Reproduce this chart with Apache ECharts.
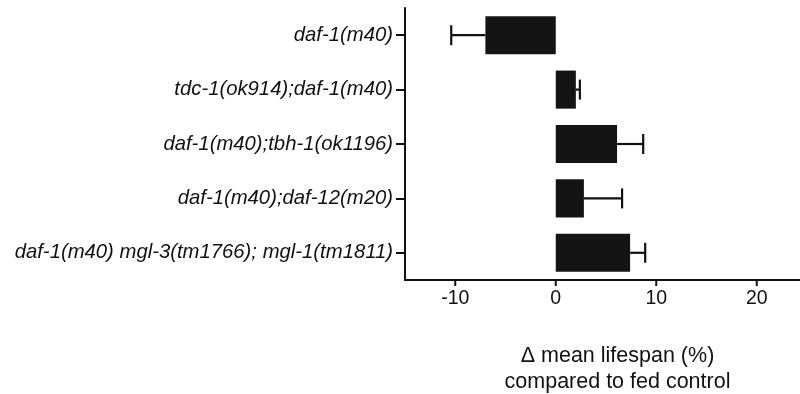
<!DOCTYPE html>
<html>
<head>
<meta charset="utf-8">
<script src="https://cdn.jsdelivr.net/npm/echarts@6/dist/echarts.min.js"></script>
<style>
  html, body { margin: 0; padding: 0; background: #fff; }
  #chart { width: 800px; height: 394px; }
</style>
</head>
<body>
<div id="chart"></div>
<script>
// Strains, top to bottom
const strains = [
  'daf-1(m40)',
  'tdc-1(ok914);daf-1(m40)',
  'daf-1(m40);tbh-1(ok1196)',
  'daf-1(m40);daf-12(m20)',
  'daf-1(m40) mgl-3(tm1766); mgl-1(tm1811)'
];
// Change in mean lifespan (%) relative to fed control
const deltaLifespan = [-7.0, 2.0, 6.1, 2.8, 7.4];
// Error (one-sided, drawn away from zero)
const errors = [3.4, 0.4, 2.6, 3.8, 1.5];
// X axis ticks
const xTicks = [-10, 0, 10, 20];

const INK = '#111';
const FONT = '"Liberation Sans", Arial, Helvetica, sans-serif';

const chart = echarts.init(document.getElementById('chart'), null, { renderer: 'canvas' });

const errData = deltaLifespan.map((v, i) => [i, v, v + Math.sign(v) * errors[i]]);

chart.setOption({
  animation: false,
  backgroundColor: '#fff',
  grid: {
    left: 405, right: -7, top: 8, bottom: 114,
    containLabel: false, outerBoundsMode: 'none'
  },
  xAxis: {
    type: 'value',
    min: -15,
    max: 25,
    splitLine: { show: false },
    axisLine: { show: true, onZero: false, lineStyle: { color: INK, width: 2 } },
    axisTick: { show: false },
    axisLabel: {
      color: INK, fontFamily: FONT, fontSize: 19.5, margin: 9,
      customValues: xTicks,
      formatter: v => String(v)
    },
    name: 'Δ mean lifespan (%)\ncompared to fed control',
    nameLocation: 'middle',
    nameGap: 63,
    nameTextStyle: {
      color: INK, fontFamily: FONT, fontSize: 21.5, lineHeight: 26,
      padding: [0, 0, 0, 23]
    }
  },
  yAxis: {
    type: 'category',
    data: strains,
    inverse: true,
    axisLine: { show: true, onZero: false, lineStyle: { color: INK, width: 2 } },
    axisTick: { show: true, alignWithLabel: true, length: 9, lineStyle: { color: INK, width: 2 } },
    axisLabel: {
      color: INK, fontFamily: FONT, fontSize: 20.3, fontStyle: 'italic', margin: 12
    },
    splitLine: { show: false }
  },
  series: [
    {
      type: 'bar',
      data: deltaLifespan,
      barWidth: '70%',
      itemStyle: { color: '#141414' },
      z: 2
    },
    {
      // error bars with end caps
      type: 'custom',
      data: errData,
      encode: { x: [1, 2], y: 0 },
      z: 3,
      renderItem: function (params, api) {
        const cat = api.value(0);
        const start = api.coord([api.value(1), cat]);
        const end = api.coord([api.value(2), cat]);
        const capHalf = 10;
        const style = { stroke: INK, lineWidth: 2.2 };
        return {
          type: 'group',
          children: [
            { type: 'line', shape: { x1: start[0], y1: start[1], x2: end[0], y2: end[1] }, style: style },
            { type: 'line', shape: { x1: end[0], y1: end[1] - capHalf, x2: end[0], y2: end[1] + capHalf }, style: style }
          ]
        };
      }
    },
    {
      // major ticks on the x axis
      type: 'custom',
      data: xTicks.map(v => [v]),
      encode: { x: 0 },
      clip: false,
      silent: true,
      z: 4,
      renderItem: function (params, api) {
        const cs = params.coordSys;
        const x = api.coord([api.value(0), 0])[0];
        const y = cs.y + cs.height;
        return {
          type: 'line',
          shape: { x1: x, y1: y, x2: x, y2: y + 6 },
          style: { stroke: INK, lineWidth: 2 }
        };
      }
    }
  ]
});
</script>
</body>
</html>
